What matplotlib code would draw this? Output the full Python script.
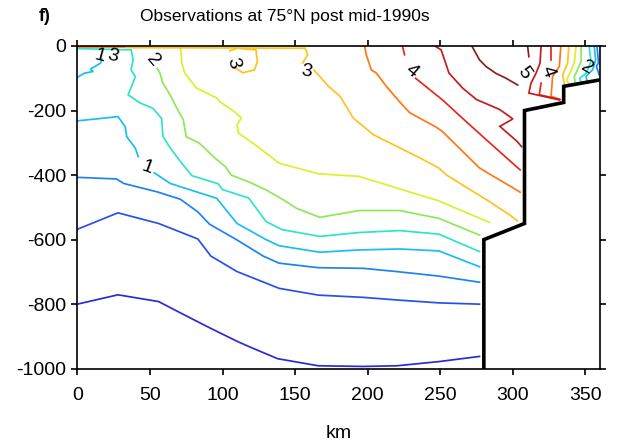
import matplotlib
matplotlib.use("Agg")
import matplotlib.pyplot as plt

plt.rcParams["font.family"] = ["Liberation Sans", "DejaVu Sans"]
plt.rcParams["axes.unicode_minus"] = False

# bottom topography (km, depth m)
topo_km = [280, 280, 308, 308, 335, 335, 360]
topo_m = [-1000, -600, -550, -200, -175, -125, -105]

# isotherms (km, depth m)
t_m05_km = [0, 28, 56, 71, 91, 110, 119, 138, 166, 197, 220, 249, 277]
t_m05_m = [-800, -771, -792, -827, -873, -915, -933, -969, -991, -993, -991, -978, -962]

t_00_km = [0, 28, 56, 83, 92, 110, 139, 166, 197, 220, 249, 277]
t_00_m = [-568, -517, -550, -598, -651, -699, -751, -772, -779, -787, -796, -800]

t_05_km = [0, 27, 32, 55, 71, 83, 91, 110, 128, 139, 166, 197, 220, 249, 277]
t_05_m = [-407, -412, -426, -452, -475, -514, -552, -601, -651, -673, -687, -689, -699, -713, -732]
t_05_shelf_km = [358, 359, 357.5, 359.5]
t_05_shelf_m = [-5, -53, -63, -90]

t_10_top_km = [0, 5, 11, 9, 16, 17]
t_10_top_m = [-97, -84, -79, -72, -53, -41]
t_10a_km = [0, 28, 33, 34, 40, 42]
t_10a_m = [-232, -219, -250, -281, -317, -343]
t_10b_km = [53, 64, 96, 110, 130, 139, 167, 194, 222, 249, 277]
t_10b_m = [-393, -426, -472, -550, -600, -619, -639, -632, -629, -635, -684]
t_10_shelf_km = [356, 357, 355, 350.5, 351]
t_10_shelf_m = [-2, -43, -73, -94, -110]

t_15_km = [0, 37, 38.5, 37, 40, 37, 35, 43, 52, 58, 59, 64, 71, 79, 97, 100, 118, 130,
           141, 167, 194, 222, 249, 277]
t_15_m = [-8, -12, -42, -74, -95, -129, -151, -176, -193, -224, -280, -316, -358, -402,
          -427, -445, -471, -544, -569, -590, -578, -572, -583, -637]
t_15_shelf_km = [352.6, 353.8, 350.3, 346, 347]
t_15_shelf_m = [-2, -48, -85, -100, -113]

t_20_km = [55, 57, 59, 64, 68, 73, 75, 84, 95, 102, 106, 119, 130, 142, 151, 167, 194,
           222, 249, 277]
t_20_m = [-69, -85, -116, -152, -188, -229, -281, -301, -348, -374, -400, -423, -446,
          -477, -503, -531, -510, -510, -534, -586]
t_20_shelf_km = [347, 347, 343.5, 342.3, 343]
t_20_shelf_m = [-2, -48, -84, -94, -116]

t_25_km = [71, 72, 74, 82, 96, 98, 108, 113, 110, 111, 121, 139, 166, 194, 220, 249, 284]
t_25_m = [-2, -53, -84, -130, -161, -172, -203, -223, -244, -270, -301, -363, -396, -404,
          -440, -480, -547]
t_25_shelf_km = [343.5, 342.3, 338.8, 337, 339]
t_25_shelf_m = [-2, -53, -89, -105, -119]

t_30_surf_km = [33, 157, 158.7, 155.3]
t_30_surf_m = [-5, -7, -27, -52]
t_30_km = [163, 173, 181, 190, 204, 236, 249, 254, 282, 298, 303]
t_30_m = [-74, -125, -156, -223, -275, -347, -378, -399, -477, -524, -542]
t_30_bub_km = [105, 110, 123, 124, 122, 114, 108.5]
t_30_bub_m = [-15, -7, -12, -49, -74, -83, -67]
t_30_shelf_km = [338.5, 337.7, 334.3, 335.5]
t_30_shelf_m = [-2, -53, -89, -120]

t_35_surf_km = [0, 32]
t_35_surf_m = [-4, -4]
t_35_km = [198, 199, 202.5, 206, 213, 222, 229, 247, 251.5, 263, 277, 284, 298, 305]
t_35_m = [-2, -27, -74, -84, -126, -173, -207, -251, -265, -316, -378, -397, -434, -453]
t_35_shelf_km = [333, 332, 327.4, 326.3, 333]
t_35_shelf_m = [-2, -63, -94, -156, -166]

t_40a_km = [224, 225.4]
t_40a_m = [-2, -27]
t_40b_km = [233, 251.5, 268, 288, 305]
t_40b_m = [-100, -167, -235, -316, -384]
t_40_shelf_a_km = [326.3, 326.3]
t_40_shelf_a_m = [-2, -42]
t_40_shelf_b_km = [319.4, 318.2, 332]
t_40_shelf_b_m = [-115, -151, -165]

t_45_km = [247, 250.6, 256, 265.5, 275, 291, 300, 291, 303, 306]
t_45_m = [-2, -12, -84, -131, -166, -197, -226, -249, -296, -312]
t_45_shelf_km = [319.4, 318.7, 316, 312.5, 311, 332]
t_45_shelf_m = [-2, -53, -84, -115, -146, -167]

t_50a_km = [272, 277, 281.6, 288.4, 295.3, 303.3]
t_50a_m = [-2, -43, -64, -85, -100, -121]
t_50b_km = [311, 310.2]
t_50b_m = [-33, -2]

# contour labels
lab_text = ["1", "3", "2", "3", "3", "1", "4", "5", "4", "2"]
lab_km = [15.6, 24, 52, 107, 158, 48, 230, 308, 324, 351]
lab_m = [-30, -30, -45, -54, -80, -378, -79, -83, -79, -69]
lab_rot = [-15, -15, -50, -75, -10, -20, -40, -55, -70, -30]

level_colors = {
    -0.5: "#2b2bd4", 0.0: "#2850e8", 0.5: "#1e82f5", 1.0: "#19bdf0",
    1.5: "#2fe3c8", 2.0: "#8ee85a", 2.5: "#dcf02a", 3.0: "#ffc31e",
    3.5: "#ff7814", 4.0: "#e6281e", 4.5: "#c31e1e", 5.0: "#8c1e1e",
}

segments = [
    (-0.5, t_m05_km, t_m05_m),
    (0.0, t_00_km, t_00_m),
    (0.5, t_05_km, t_05_m), (0.5, t_05_shelf_km, t_05_shelf_m),
    (1.0, t_10_top_km, t_10_top_m), (1.0, t_10a_km, t_10a_m),
    (1.0, t_10b_km, t_10b_m), (1.0, t_10_shelf_km, t_10_shelf_m),
    (1.5, t_15_km, t_15_m), (1.5, t_15_shelf_km, t_15_shelf_m),
    (2.0, t_20_km, t_20_m), (2.0, t_20_shelf_km, t_20_shelf_m),
    (2.5, t_25_km, t_25_m), (2.5, t_25_shelf_km, t_25_shelf_m),
    (3.0, t_30_surf_km, t_30_surf_m), (3.0, t_30_km, t_30_m),
    (3.0, t_30_bub_km, t_30_bub_m), (3.0, t_30_shelf_km, t_30_shelf_m),
    (3.5, t_35_surf_km, t_35_surf_m), (3.5, t_35_km, t_35_m),
    (3.5, t_35_shelf_km, t_35_shelf_m),
    (4.0, t_40a_km, t_40a_m), (4.0, t_40b_km, t_40b_m),
    (4.0, t_40_shelf_a_km, t_40_shelf_a_m), (4.0, t_40_shelf_b_km, t_40_shelf_b_m),
    (4.5, t_45_km, t_45_m), (4.5, t_45_shelf_km, t_45_shelf_m),
    (5.0, t_50a_km, t_50a_m), (5.0, t_50b_km, t_50b_m),
]

fig = plt.figure(figsize=(6.19, 4.44), dpi=100)
ax = fig.add_axes([0.1249, 0.1696, 0.8444, 0.7268])

for level, xs, zs in segments:
    ax.plot(xs, zs, color=level_colors[level], lw=1.25, solid_joinstyle="miter")

ax.plot(topo_km, topo_m, color="black", lw=2.6, solid_joinstyle="miter", zorder=5)

for t, x, z, r in zip(lab_text, lab_km, lab_m, lab_rot):
    ax.text(x, z, t, rotation=r, fontsize=14, ha="center", va="center", zorder=6)

ax.set_xlim(0, 360)
ax.set_ylim(-1000, 0)
ax.set_xticks(range(0, 351, 50))
ax.set_yticks(range(-1000, 1, 200))
ax.tick_params(direction="out", length=4, width=1.2, labelsize=14, pad=4,
               top=True, right=True)
ax.tick_params(axis="x", pad=9)
for sp in ax.spines.values():
    sp.set_linewidth(1.2)
ax.set_xlabel("km", fontsize=14, labelpad=15)

fig.text(0.460, 0.962, "Observations at 75\u00b0N post mid-1990s", fontsize=12.5,
         ha="center", va="center")
fig.text(0.062, 0.962, "f)", fontsize=13, fontweight="bold", ha="left", va="center")

fig.savefig("out.png", dpi=100)
